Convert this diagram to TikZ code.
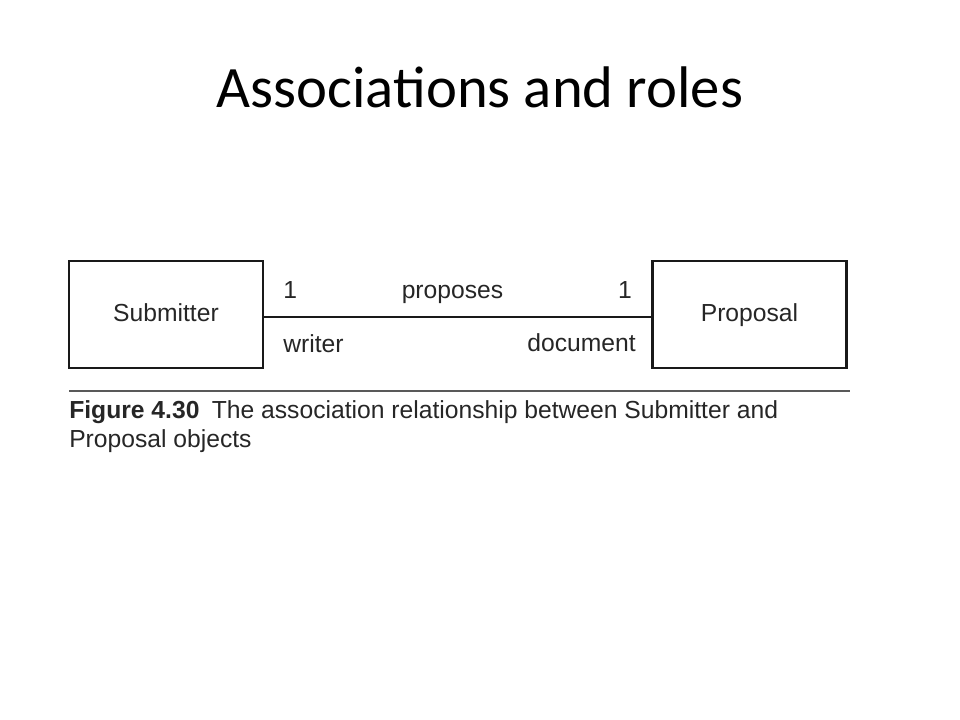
\documentclass[tikz,border=0pt]{standalone}
\usepackage{fontspec}
\setmainfont{Liberation Sans}
\newfontfamily\slidefont{Carlito}
\usetikzlibrary{positioning}

\begin{document}
\begin{tikzpicture}[x=0.75pt,y=-0.75pt,
    klasse/.style={draw=black!90,line width=1.7pt,minimum width=145.5pt,minimum height=80.25pt,inner sep=0pt,
        text height=13pt,text depth=3.25pt,font=\fontsize{18.5}{22}\selectfont,text=black!85},
    rolle/.style={inner sep=0pt,font=\fontsize{18.5}{22}\selectfont,text=black!85},
    assoc/.style={draw=black!90,line width=1.5pt},
    rule/.style={draw=black!65,line width=1pt},
    caption/.style={inner sep=0pt,anchor=base west,font=\fontsize{18.5}{22}\selectfont,text=black!85}]

        % Rahmen der Folie
        \useasboundingbox (0,0) rectangle (960,720);

        % Titel
        \node[anchor=base,font=\slidefont\fontsize{44}{53}\selectfont] (titel) at (480,108) {Associations and roles};

        % Klassen
        \node[klasse] (sub) at (166,314.5) {Submitter};
        \node[klasse] (prop) at (749.5,314.5) {Proposal};

        % Assoziation
        \draw[assoc] ([yshift=-1.9pt]sub.east) -- ([yshift=-1.9pt]prop.west);

        % Multiplizitaeten, Name und Rollen
        \node[rolle,anchor=base west] (multsub) at (283,299) {1};
        \node[rolle,anchor=base] (name) at (452.5,299) {proposes};
        \node[rolle,anchor=base east] (multprop) at (632,299) {1};
        \node[rolle,anchor=base west] (rollesub) at (283,352) {writer};
        \node[rolle,anchor=base east] (rolleprop) at (636,351) {document};

        % Linie und Bildunterschrift
        \coordinate (ruleL) at (69,391);
        \coordinate (ruleR) at (850,391);
        \draw[rule] (ruleL) -- (ruleR);
        \node[caption] (cap1) at (69,418) {\textbf{Figure 4.30}\enspace The association relationship between Submitter and};
        \node[caption] (cap2) at (69,447) {Proposal objects};

\end{tikzpicture}
\end{document}
